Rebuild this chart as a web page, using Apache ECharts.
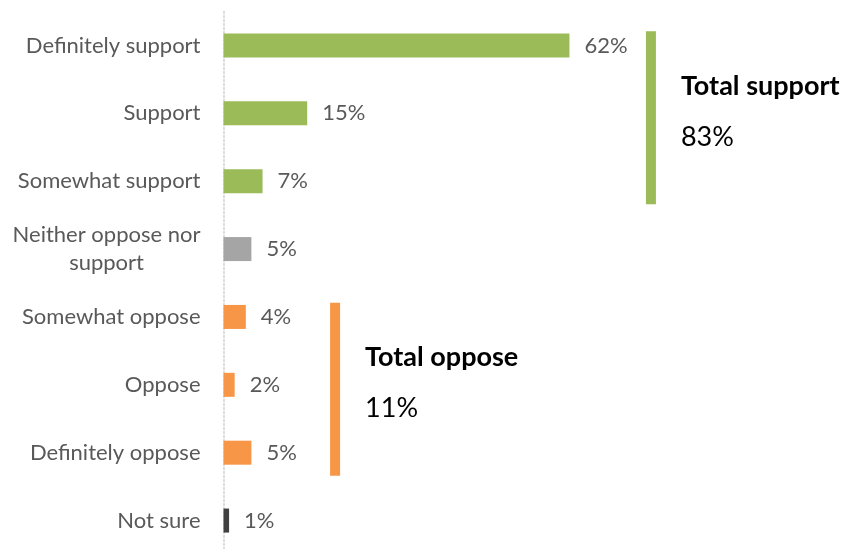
<!DOCTYPE html>
<html>
<head>
<meta charset="utf-8">
<script src="https://cdn.jsdelivr.net/npm/echarts@6/dist/echarts.min.js"></script>
<style>
  html, body { margin: 0; padding: 0; background: #fff; }
  #chart { width: 847px; height: 549px; }
</style>
</head>
<body>
<div id="chart"></div>
<script>
// Survey responses, top to bottom
const categories = [
  'Definitely support',
  'Support',
  'Somewhat support',
  'Neither oppose nor support',
  'Somewhat oppose',
  'Oppose',
  'Definitely oppose',
  'Not sure'
];
const values = [62, 15, 7, 5, 4, 2, 5, 1];
const groups = ['support', 'support', 'support', 'neutral', 'oppose', 'oppose', 'oppose', 'unsure'];

// Summary brackets: label, total, first and last category covered
const totalLabels = ['Total support', 'Total oppose'];
const totalValues = [83, 11];
const totalFrom = [0, 4];
const totalTo = [2, 6];
const totalGroups = ['support', 'oppose'];

const palette = {
  support: '#9BBB59',
  neutral: '#A5A5A5',
  oppose: '#F79646',
  unsure: '#404040'
};
const FONT = 'Lato, "Open Sans", sans-serif';

// x position (in axis units) of each bracket bar
const bracketX = { support: 76.6, oppose: 20 };

const chart = echarts.init(document.getElementById('chart'), null, { renderer: 'canvas' });

const option = {
  backgroundColor: '#ffffff',
  animation: false,
  grid: { left: 223.5, width: 558, top: 11.5, height: 543, outerBoundsMode: 'none' },
  xAxis: {
    type: 'value', min: 0, max: 100,
    show: false, splitLine: { show: false }
  },
  yAxis: {
    type: 'category',
    inverse: true,
    data: categories,
    axisTick: { show: false },
    axisLine: { show: true, lineStyle: { color: '#D0D0D0', width: 1.5, type: [2, 2] } },
    axisLabel: {
      margin: 23,
      fontFamily: FONT,
      fontSize: 22,
      color: '#595959',
      formatter: function (v) {
        if (v === 'Neither oppose nor support') {
          return '{c|Neither oppose nor}\n{c|support}';
        }
        return v;
      },
      rich: {
        c: { align: 'center', fontFamily: FONT, fontSize: 22, color: '#595959', lineHeight: 28 }
      }
    }
  },
  series: [
    {
      type: 'bar',
      barWidth: 24,
      data: values.map(function (v, i) {
        return { value: v, itemStyle: { color: palette[groups[i]] } };
      }),
      label: {
        show: true,
        position: 'right',
        distance: 15,
        fontFamily: FONT,
        fontSize: 22,
        color: '#595959',
        formatter: '{c}%'
      }
    },
    {
      type: 'custom',
      data: totalLabels.map(function (name, i) {
        return [bracketX[totalGroups[i]], totalFrom[i], totalTo[i], totalValues[i], i];
      }),
      renderItem: function (params, api) {
        const i = api.value(4);
        const band = api.size([0, 1])[1];
        const top = api.coord([api.value(0), api.value(1)]);
        const bottom = api.coord([api.value(0), api.value(2)]);
        const y0 = top[1] - band * 0.21;
        const y1 = bottom[1] + band * 0.34;
        const x = top[0];
        const color = palette[totalGroups[i]];
        return {
          type: 'group',
          children: [
            { type: 'rect', shape: { x: x - 5, y: y0, width: 10, height: y1 - y0 }, style: { fill: color } },
            {
              type: 'text', x: x + 30, y: y0 + 55,
              style: { text: totalLabels[i], fontFamily: FONT, fontSize: 27, fontWeight: 'bold', fill: '#000', verticalAlign: 'middle', align: 'left' }
            },
            {
              type: 'text', x: x + 30, y: y0 + 106,
              style: { text: api.value(3) + '%', fontFamily: FONT, fontSize: 27, fill: '#000', verticalAlign: 'middle', align: 'left' }
            }
          ]
        };
      }
    }
  ]
};

chart.setOption(option);
</script>
</body>
</html>
